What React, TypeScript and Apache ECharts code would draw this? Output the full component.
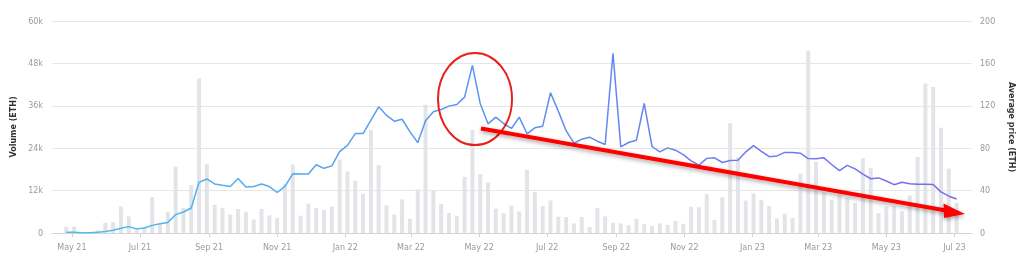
import React, { useEffect, useRef } from "react";
import * as echarts from "echarts";

// First week (Monday) of the weekly series, local time: 26 Apr 2021
const FIRST_WEEK = { y: 2021, m: 3, d: 26 };

// Weekly trading volume, thousands of ETH
const volumeK = [
  1.8, 1.8, 0.3, 0.2, 0.8, 2.9, 3.1, 7.5, 4.7, 0.8,
  1.6, 10.2, 2.5, 6.0, 18.8, 7.1, 13.5, 43.7, 19.5, 8.0,
  7.0, 5.2, 6.8, 6.0, 3.8, 6.8, 5.0, 4.3, 13.8, 19.4,
  4.9, 8.3, 7.1, 6.5, 7.5, 20.8, 17.4, 14.8, 11.1, 29.2,
  19.2, 7.8, 5.2, 9.5, 4.0, 12.3, 36.3, 12.0, 8.2, 5.7,
  4.9, 15.9, 29.2, 16.7, 14.3, 6.9, 5.6, 7.7, 6.1, 17.9,
  11.6, 7.7, 9.2, 4.6, 4.5, 2.7, 4.5, 1.7, 7.1, 4.7,
  2.9, 2.7, 2.2, 4.0, 2.5, 2.0, 2.7, 2.3, 3.4, 2.6,
  7.4, 7.3, 11.0, 3.7, 10.1, 31.1, 21.4, 9.2, 11.2, 9.4,
  7.7, 4.1, 5.5, 4.3, 16.8, 51.6, 20.1, 11.5, 9.4, 10.9,
  9.9, 8.5, 21.1, 18.4, 5.6, 7.5, 7.6, 6.2, 10.6, 21.5,
  42.3, 41.3, 29.8, 18.2, 8.5,
];

// Weekly average price, ETH
const avgPrice = [
  0.6, 0.6, 0.3, 0.3, 0.6, 1.5, 2.5, 4.4, 6.0, 3.8,
  4.7, 7.2, 8.8, 10.0, 17.3, 19.8, 23.6, 47.8, 51.0, 46.3,
  45.0, 43.8, 51.5, 43.5, 43.8, 46.3, 43.8, 38.2, 44.0, 55.8,
  55.7, 55.7, 64.4, 61.0, 63.3, 76.8, 82.6, 93.8, 93.8, 106.2,
  119.0, 111.0, 105.5, 107.3, 95.7, 85.2, 106.0, 114.4, 116.5, 119.7,
  121.2, 128.2, 158.2, 122.2, 103.0, 109.3, 103.3, 98.6, 109.3, 93.6,
  99.2, 100.8, 132.3, 115.0, 96.5, 84.7, 88.5, 90.4, 86.6, 83.5,
  169.5, 81.3, 85.4, 87.5, 122.2, 81.6, 76.6, 80.3, 78.1, 74.0,
  68.0, 63.9, 70.4, 70.9, 66.5, 68.3, 68.6, 76.5, 82.5, 77.1,
  72.0, 72.7, 76.0, 76.0, 75.3, 70.2, 70.0, 70.9, 64.6, 58.9,
  63.8, 60.5, 55.5, 51.2, 52.0, 49.1, 45.6, 47.8, 46.5, 46.0,
  46.0, 45.7, 38.8, 34.7, 32.1,
];

const MONTHS = ["Jan", "Feb", "Mar", "Apr", "May", "Jun", "Jul", "Aug", "Sep", "Oct", "Nov", "Dec"];
const X_MIN = { y: 2021, m: 3, d: 15 };
const X_MAX = { y: 2023, m: 6, d: 15 };
const VOLUME_AXIS = { min: 0, max: 60000, interval: 12000 };
const PRICE_AXIS = { min: 0, max: 200, interval: 40 };

const FONT = "DejaVu Sans";

export default function App() {
  const ref = useRef<HTMLDivElement>(null);

  useEffect(() => {
    if (!ref.current) return;
    const chart = echarts.init(ref.current, undefined, { renderer: "svg" });

    const weekTime = (i: number) =>
      new Date(FIRST_WEEK.y, FIRST_WEEK.m, FIRST_WEEK.d + 7 * i).getTime();
    const barData = volumeK.map((v, i) => [weekTime(i), v * 1000]);
    const lineData = avgPrice.map((v, i) => [weekTime(i), v]);

    const axisLabelStyle = { color: "#9a9a9a", fontSize: 8, fontFamily: FONT };
    const nameStyle = { color: "#333", fontSize: 8, fontWeight: "bold" as const, fontFamily: FONT };

    chart.setOption({
      animation: false,
      grid: { left: 52, right: 52, top: 21, bottom: 29 },
      xAxis: {
        type: "time",
        min: new Date(X_MIN.y, X_MIN.m, X_MIN.d).getTime(),
        max: new Date(X_MAX.y, X_MAX.m, X_MAX.d).getTime(),
        splitNumber: 13,
        minInterval: 55 * 86400000,
        maxInterval: 70 * 86400000,
        axisLine: { lineStyle: { color: "#d4d4d4" } },
        axisTick: { show: true, length: 4, lineStyle: { color: "#d4d4d4" } },
        splitLine: { show: false },
        axisLabel: {
          ...axisLabelStyle,
          margin: 10,
          hideOverlap: false,
          formatter: (value: number) => {
            const d = new Date(value);
            if (d.getDate() !== 1) return "";
            return MONTHS[d.getMonth()] + " " + String(d.getFullYear()).slice(2);
          },
        },
      },
      yAxis: [
        {
          type: "value",
          ...VOLUME_AXIS,
          name: "Volume (ETH)",
          nameLocation: "middle",
          nameGap: 34,
          nameTextStyle: nameStyle,
          axisLine: { show: false },
          axisTick: { show: false },
          splitLine: { lineStyle: { color: "#e6e6e6", width: 1 } },
          axisLabel: {
            ...axisLabelStyle,
            margin: 9,
            formatter: (v: number) => (v === 0 ? "0" : v / 1000 + "k"),
          },
        },
        {
          type: "value",
          ...PRICE_AXIS,
          position: "right",
          name: "Average price (ETH)",
          nameLocation: "middle",
          nameGap: 35,
          nameRotate: -90,
          nameTextStyle: nameStyle,
          axisLine: { show: false },
          axisTick: { show: false },
          splitLine: { show: false },
          axisLabel: { ...axisLabelStyle, margin: 8 },
        },
      ],
      series: [
        {
          type: "bar",
          yAxisIndex: 0,
          data: barData,
          barWidth: 4,
          itemStyle: { color: "#e2e4e7" },
          z: 1,
        },
        {
          type: "line",
          yAxisIndex: 1,
          data: lineData,
          showSymbol: false,
          symbol: "none",
          lineStyle: {
            width: 1.5,
            color: new echarts.graphic.LinearGradient(0, 0, 1, 0, [
              { offset: 0, color: "#4cc0ef" },
              { offset: 0.45, color: "#5a95ef" },
              { offset: 1, color: "#7b68ee" },
            ]),
          },
          z: 3,
        },
      ],
      graphic: [
        {
          type: "ellipse",
          shape: { cx: 475, cy: 99, rx: 37, ry: 46 },
          style: { fill: "none", stroke: "#e8201c", lineWidth: 2 },
          z: 10,
        },
        {
          type: "line",
          shape: { x1: 481, y1: 128.5, x2: 946, y2: 210.5 },
          style: {
            stroke: "#ff0000",
            lineWidth: 4,
            shadowBlur: 4,
            shadowColor: "rgba(0,0,0,0.35)",
            shadowOffsetY: 2,
          },
          z: 10,
        },
        {
          type: "polygon",
          shape: { points: [[943.5, 203.5], [965, 214], [944, 218]] },
          style: {
            fill: "#ff0000",
            shadowBlur: 4,
            shadowColor: "rgba(0,0,0,0.35)",
            shadowOffsetY: 2,
          },
          z: 10,
        },
      ],
    });

    return () => chart.dispose();
  }, []);

  return (
    <div
      ref={ref}
      style={{ position: "fixed", left: 0, top: 0, width: 1024, height: 262 }}
    />
  );
}
